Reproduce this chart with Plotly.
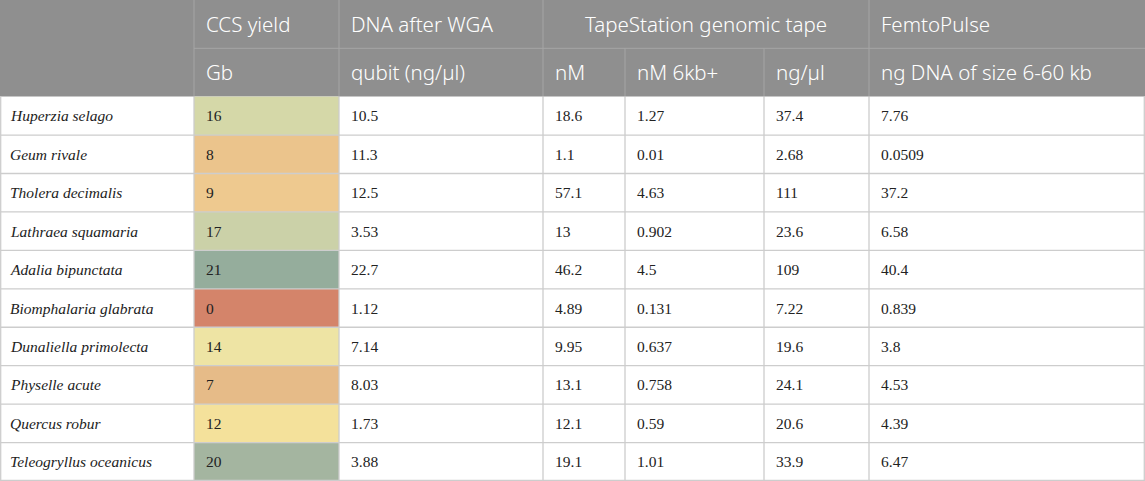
import plotly.graph_objects as go

# ---------------- data ----------------
species = ["Huperzia selago", "Geum rivale", "Tholera decimalis", "Lathraea squamaria",
           "Adalia bipunctata", "Biomphalaria glabrata", "Dunaliella primolecta",
           "Physelle acute", "Quercus robur", "Teleogryllus oceanicus"]
ccs_yield_gb = [16, 8, 9, 17, 21, 0, 14, 7, 12, 20]
qubit_ng_ul = ["10.5", "11.3", "12.5", "3.53", "22.7", "1.12", "7.14", "8.03", "1.73", "3.88"]
tape_nM = ["18.6", "1.1", "57.1", "13", "46.2", "4.89", "9.95", "13.1", "12.1", "19.1"]
tape_nM_6kb = ["1.27", "0.01", "4.63", "0.902", "4.5", "0.131", "0.637", "0.758", "0.59", "1.01"]
tape_ng_ul = ["37.4", "2.68", "111", "23.6", "109", "7.22", "19.6", "24.1", "20.6", "33.9"]
femto_ng = ["7.76", "0.0509", "37.2", "6.58", "40.4", "0.839", "3.8", "4.53", "4.39", "6.47"]

group_headers = ["", "CCS yield", "DNA after WGA", "TapeStation genomic tape", "FemtoPulse"]
group_spans = [1, 1, 1, 3, 1]
sub_headers = ["", "Gb", "qubit (ng/µl)", "nM", "nM 6kb+", "ng/µl", "ng DNA of size 6-60 kb"]

# ---------------- layout / style ----------------
W, H = 1145, 481
col_widths = [194, 145, 204, 82, 139, 105, 276]
hdr_h = 48.3
row_h = (H - 2 * hdr_h) / len(species)
hdr_pad = 9.5
body_pad = 10
name_pad = 8

HDR_BG = "#8f8f8f"
HDR_LINE = "#a5a5a5"
BODY_LINE = "#cdcdcd"
HDR_FONT = dict(family="Noto Sans", size=20.5, color="white", weight=300)
BODY_FONT = dict(family="Liberation Serif", size=15.5, color="#222222")

ccs_colorscale = [
    [0 / 21, "rgb(212,132,106)"],
    [7 / 21, "rgb(230,187,136)"],
    [8 / 21, "rgb(235,196,140)"],
    [9 / 21, "rgb(238,201,143)"],
    [12 / 21, "rgb(244,225,155)"],
    [14 / 21, "rgb(238,228,164)"],
    [16 / 21, "rgb(213,216,168)"],
    [17 / 21, "rgb(203,209,168)"],
    [20 / 21, "rgb(164,181,160)"],
    [21 / 21, "rgb(149,173,156)"],
]

edges = [0]
for w in col_widths:
    edges.append(edges[-1] + w)
body_top = 2 * hdr_h
row_edges = [body_top + i * row_h for i in range(len(species) + 1)]

fig = go.Figure()

# CCS yield colored column via heatmap
fig.add_trace(go.Heatmap(
    z=[[v] for v in ccs_yield_gb],
    x=[edges[1], edges[2]],
    y=row_edges,
    colorscale=ccs_colorscale, zmin=0, zmax=21,
    showscale=False, hoverinfo="skip",
))

shapes = []
shapes.append(dict(type="rect", xref="x", yref="y", x0=0, x1=W, y0=0, y1=body_top,
                   fillcolor=HDR_BG, line=dict(width=0), layer="below"))
shapes.append(dict(type="line", xref="x", yref="y", x0=edges[1], x1=W, y0=hdr_h, y1=hdr_h,
                   line=dict(color=HDR_LINE, width=1)))
gi = 0
group_edges = [0]
for s in group_spans:
    gi += s
    group_edges.append(edges[gi])
for xe in group_edges[1:-1]:
    shapes.append(dict(type="line", xref="x", yref="y", x0=xe, x1=xe, y0=0, y1=body_top,
                       line=dict(color=HDR_LINE, width=1)))
for xe in edges[1:-1]:
    if xe not in group_edges:
        shapes.append(dict(type="line", xref="x", yref="y", x0=xe, x1=xe, y0=hdr_h, y1=body_top,
                           line=dict(color=HDR_LINE, width=1)))
for ye in row_edges[1:]:
    yy = min(ye, H - 0.7)
    shapes.append(dict(type="line", xref="x", yref="y", x0=0, x1=W, y0=yy, y1=yy,
                       line=dict(color=BODY_LINE, width=1.3)))
for xe in edges[:-1]:
    xx = xe + (0.7 if xe == 0 else 0)
    shapes.append(dict(type="line", xref="x", yref="y", x0=xx, x1=xx, y0=body_top, y1=H,
                       line=dict(color=BODY_LINE, width=1.3)))
shapes.append(dict(type="line", xref="x", yref="y", x0=W - 0.7, x1=W - 0.7, y0=body_top, y1=H,
                   line=dict(color=BODY_LINE, width=1.3)))

annotations = []
for g, txt in enumerate(group_headers):
    if not txt:
        continue
    x0, x1 = group_edges[g], group_edges[g + 1]
    if group_spans[g] > 1:
        annotations.append(dict(x=(x0 + x1) / 2, y=hdr_h / 2, xref="x", yref="y", text=txt,
                                showarrow=False, xanchor="center", yanchor="middle", font=HDR_FONT))
    else:
        annotations.append(dict(x=x0 + hdr_pad, y=hdr_h / 2, xref="x", yref="y", text=txt,
                                showarrow=False, xanchor="left", yanchor="middle", font=HDR_FONT))
for c, txt in enumerate(sub_headers):
    if not txt:
        continue
    annotations.append(dict(x=edges[c] + hdr_pad, y=hdr_h * 1.5, xref="x", yref="y", text=txt,
                            showarrow=False, xanchor="left", yanchor="middle", font=HDR_FONT))

columns = [["<i>%s</i>" % s for s in species], [str(v) for v in ccs_yield_gb], qubit_ng_ul,
           tape_nM, tape_nM_6kb, tape_ng_ul, femto_ng]
for c, col in enumerate(columns):
    p = name_pad if c == 0 else body_pad
    for r, txt in enumerate(col):
        annotations.append(dict(x=edges[c] + p, y=row_edges[r] + row_h / 2, xref="x", yref="y",
                                text=txt, showarrow=False, xanchor="left", yanchor="middle",
                                font=BODY_FONT))

fig.update_layout(
    width=W, height=H, margin=dict(l=0, r=0, t=0, b=0),
    paper_bgcolor="white", plot_bgcolor="white",
    xaxis=dict(range=[0, W], visible=False, fixedrange=True),
    yaxis=dict(range=[H, 0], visible=False, fixedrange=True),
    shapes=shapes, annotations=annotations, showlegend=False,
)

fig.write_html("out.html", config={"displayModeBar": False},
               post_script="document.body.style.margin='0px';document.body.style.padding='0px';"
                           "document.documentElement.style.overflow='hidden';")
